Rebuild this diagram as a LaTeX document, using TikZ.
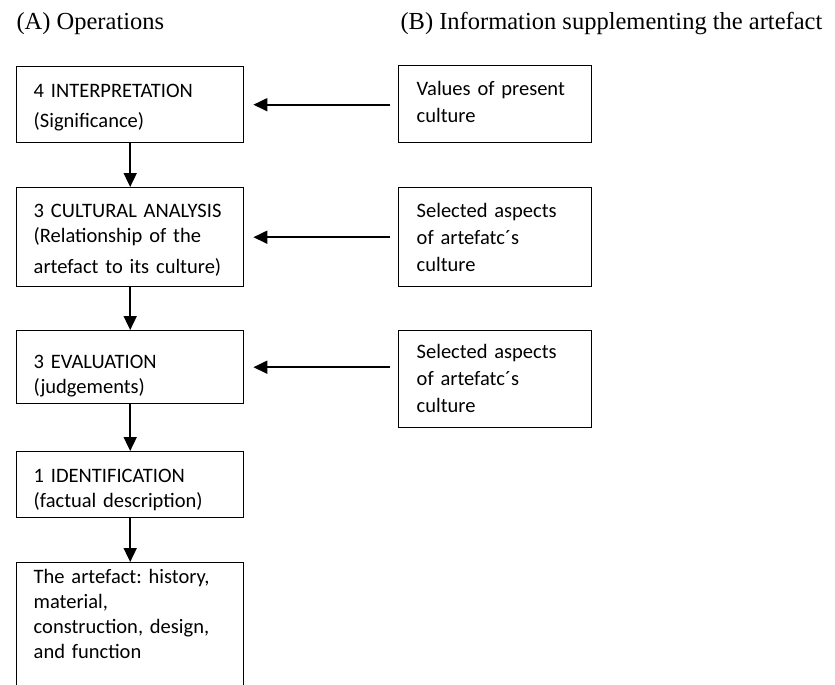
\documentclass[tikz,border=0pt]{standalone}
\usepackage{fontspec}
\setmainfont{Liberation Serif}
\newfontfamily\boxfont{Carlito}
\usetikzlibrary{arrows.meta}
\frenchspacing

\begin{document}
\begin{tikzpicture}[x=1pt, y=-1pt,
		opbox/.style={draw, line width=1.4pt, anchor=north west, align=left, inner xsep=17pt, inner ysep=0pt, text width=193pt, font=\boxfont\fontsize{20.5}{25}\selectfont},
		infobox/.style={opbox, inner xsep=18pt, text width=157pt, font=\boxfont\fontsize{20.5}{27}\selectfont},
		flow/.style={line width=1.8pt, -{Triangle[length=14pt, width=13pt]}}]
	\useasboundingbox (0,0) rectangle (835,685);
	\node[anchor=base west, font=\fontsize{24.5}{28}\selectfont] (headA) at (13,30) {(A) Operations};
	\node[anchor=base west, font=\fontsize{24.5}{28}\selectfont] (headB) at (397,30) {(B) Information supplementing the artefact};
	\node[opbox, text height=31pt, text depth=45pt] (interp) at (16,66) {4 INTERPRETATION\\[5pt](Significance)};
	\node[opbox, text height=30pt, text depth=69pt] (culana) at (16,187) {3 CULTURAL ANALYSIS\\(Relationship of the\\[6pt]artefact to its culture)};
	\node[opbox, text height=38pt, text depth=35pt] (evalu) at (16,330) {3 EVALUATION\\(judgements)};
	\node[opbox, text height=31pt, text depth=35pt] (ident) at (16,451) {1 IDENTIFICATION\\(factual description)};
	\node[opbox, text height=21pt, text depth=140pt] (artef) at (16,562) {The artefact: history,\\material,\\construction, design,\\and function};
	\node[infobox, text height=30pt, text depth=47pt] (values) at (398,65) {Values of present\\culture};
	\node[infobox, text height=30pt, text depth=69pt] (selcult) at (398,187) {Selected aspects\\of artefatc´s\\culture};
	\node[infobox, text height=28pt, text depth=69pt] (selcultb) at (398,330) {Selected aspects\\of artefatc´s\\culture};
	\draw[flow] (interp.south) -- (culana.north);
	\draw[flow] (culana.south) -- (evalu.north);
	\draw[flow] (evalu.south) -- (ident.north);
	\draw[flow] (ident.south) -- (artef.north);
	\draw[flow] ([xshift=-8pt]values.west |- interp.east) -- ([xshift=9pt]interp.east);
	\draw[flow] ([xshift=-8pt]selcult.west |- culana.east) -- ([xshift=9pt]culana.east);
	\draw[flow] ([xshift=-8pt]selcultb.west |- evalu.east) -- ([xshift=9pt]evalu.east);
\end{tikzpicture}
\end{document}
